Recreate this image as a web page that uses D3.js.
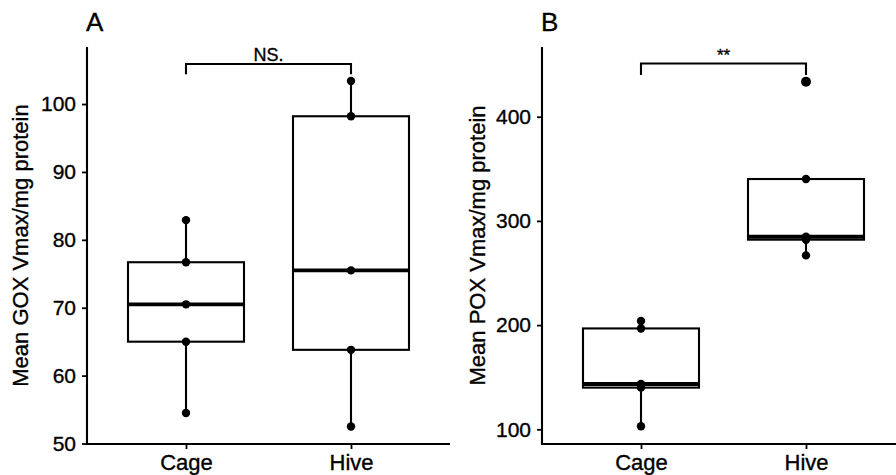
<!DOCTYPE html>
<html>
<head>
<meta charset="utf-8">
<script src="https://cdn.jsdelivr.net/npm/d3@7"></script>
<style>
	body { margin: 0; background: #fff; }
	svg { display: block; font-family: "Liberation Sans", Arial, sans-serif; }
	svg text { stroke: #000; stroke-width: 0.35px; }
</style>
</head>
<body>
<div id="content"></div>
<script>
// groups on the x axis
var groups = ["Cage", "Hive"];

// GOX values (panel A)
var goxCage = [54.5, 65.0, 70.5, 76.7, 82.9];
var goxHive = [52.5, 63.8, 75.5, 98.2, 103.4];

// POX values (panel B)
var poxCage = [103.0, 140.0, 143.5, 196.8, 204.0];
var poxHive = [266.9, 282.0, 284.8, 340.2, 433.6];

// y tick labels
var goxTicks = [50, 60, 70, 80, 90, 100];
var poxTicks = [100, 200, 300, 400];

// significance brackets: [bar value, leg tip value]
var goxBracket = [105.9, 104.4];
var poxBracket = [451.0, 440.0];
var goxSig = "NS.";
var poxSig = "**";

function main() {
	var width = 896, height = 475;
	var svg = d3.select("#content")
		.append("svg")
		.attr("width", width)
		.attr("height", height);

	drawPanel(svg, {
		letter: "A",
		axisX: 87,
		titleX: 28,
		title: "Mean GOX Vmax/mg protein",
		domain: [49.93, 108.4],
		ticks: goxTicks,
		values: [goxCage, goxHive],
		bracket: goxBracket,
		sig: goxSig
	});

	drawPanel(svg, {
		letter: "B",
		axisX: 542,
		titleX: 485,
		title: "Mean POX Vmax/mg protein",
		domain: [85.9, 466.9],
		ticks: poxTicks,
		values: [poxCage, poxHive],
		bracket: poxBracket,
		sig: poxSig
	});
}

function boxStats(v) {
	var s = v.slice().sort(d3.ascending);
	var q1 = d3.quantile(s, 0.25), med = d3.quantile(s, 0.5), q3 = d3.quantile(s, 0.75);
	var iqr = q3 - q1;
	var inside = s.filter(function (d) { return d >= q1 - 1.5 * iqr && d <= q3 + 1.5 * iqr; });
	return {
		q1: q1, med: med, q3: q3,
		lo: d3.min(inside), hi: d3.max(inside),
		out: s.filter(function (d) { return d < q1 - 1.5 * iqr || d > q3 + 1.5 * iqr; }),
		all: s
	};
}

function drawPanel(svg, p) {
	var top = 47, bottom = 444;
	var lw = 2.1;
	var x = d3.scalePoint()
		.domain(groups)
		.range([p.axisX, p.axisX + 363])
		.padding(0.6);
	var y = d3.scaleLinear()
		.domain(p.domain)
		.range([bottom, top]);
	var boxW = x.step() * 0.703;

	var g = svg.append("g");

	// axes
	var yAxis = g.append("g")
		.attr("transform", "translate(" + p.axisX + ",0)")
		.call(d3.axisLeft(y).tickValues(p.ticks).tickSize(5).tickPadding(6).tickSizeOuter(0));
	yAxis.select(".domain").remove();
	g.append("line")
		.attr("x1", p.axisX).attr("x2", p.axisX)
		.attr("y1", top).attr("y2", bottom + 1)
		.attr("stroke", "#000").attr("stroke-width", lw);

	var xAxis = g.append("g")
		.attr("transform", "translate(0," + bottom + ")")
		.call(d3.axisBottom(x).tickSize(5).tickPadding(5).tickSizeOuter(0));
	xAxis.select(".domain").remove();
	g.append("line")
		.attr("x1", p.axisX - 1).attr("x2", p.axisX + 363)
		.attr("y1", bottom).attr("y2", bottom)
		.attr("stroke", "#000").attr("stroke-width", lw);

	g.selectAll(".tick line").attr("stroke", "#000").attr("stroke-width", 1.8);
	yAxis.selectAll("text").attr("font-size", 21).attr("fill", "#000").attr("font-family", "Liberation Sans, Arial, sans-serif");
	xAxis.selectAll("text").attr("font-size", 22).attr("fill", "#000").attr("font-family", "Liberation Sans, Arial, sans-serif");

	// y title
	g.append("text")
		.attr("transform", "translate(" + p.titleX + "," + ((top + bottom) / 2) + ") rotate(-90)")
		.attr("text-anchor", "middle")
		.attr("font-size", 22)
		.text(p.title);

	// panel letter
	g.append("text")
		.attr("x", p.axisX - 1)
		.attr("y", 31)
		.attr("font-size", 26)
		.text(p.letter);

	// boxes
	var stats = p.values.map(boxStats);
	var boxes = g.selectAll(".box")
		.data(stats)
		.enter()
		.append("g")
		.attr("class", "box");

	boxes.append("line")
		.attr("x1", function (d, i) { return x(groups[i]); })
		.attr("x2", function (d, i) { return x(groups[i]); })
		.attr("y1", function (d) { return y(d.q3); })
		.attr("y2", function (d) { return y(d.hi); })
		.attr("stroke", "#000").attr("stroke-width", lw);
	boxes.append("line")
		.attr("x1", function (d, i) { return x(groups[i]); })
		.attr("x2", function (d, i) { return x(groups[i]); })
		.attr("y1", function (d) { return y(d.q1); })
		.attr("y2", function (d) { return y(d.lo); })
		.attr("stroke", "#000").attr("stroke-width", lw);
	boxes.append("rect")
		.attr("x", function (d, i) { return x(groups[i]) - boxW / 2; })
		.attr("width", boxW)
		.attr("y", function (d) { return y(d.q3); })
		.attr("height", function (d) { return y(d.q1) - y(d.q3); })
		.attr("fill", "#fff")
		.attr("stroke", "#000").attr("stroke-width", lw);
	boxes.append("line")
		.attr("x1", function (d, i) { return x(groups[i]) - boxW / 2; })
		.attr("x2", function (d, i) { return x(groups[i]) + boxW / 2; })
		.attr("y1", function (d) { return y(d.med); })
		.attr("y2", function (d) { return y(d.med); })
		.attr("stroke", "#000").attr("stroke-width", 3.8);

	// outliers
	boxes.selectAll(".out")
		.data(function (d, i) { return d.out.map(function (v) { return { g: groups[i], v: v }; }); })
		.enter()
		.append("circle")
		.attr("cx", function (d) { return x(d.g); })
		.attr("cy", function (d) { return y(d.v); })
		.attr("r", 5)
		.attr("fill", "#000");

	// points
	boxes.selectAll(".pt")
		.data(function (d, i) { return d.all.map(function (v) { return { g: groups[i], v: v }; }); })
		.enter()
		.append("circle")
		.attr("cx", function (d) { return x(d.g); })
		.attr("cy", function (d) { return y(d.v); })
		.attr("r", 4.2)
		.attr("fill", "#000");

	// significance bracket
	var x1 = x(groups[0]), x2 = x(groups[1]);
	var yb = y(p.bracket[0]), yt = y(p.bracket[1]);
	g.append("path")
		.attr("d", "M" + x1 + "," + yt + "V" + yb + "H" + x2 + "V" + yt)
		.attr("fill", "none")
		.attr("stroke", "#000").attr("stroke-width", lw);
	g.append("text")
		.attr("x", (x1 + x2) / 2)
		.attr("y", 61)
		.attr("text-anchor", "middle")
		.attr("font-size", p.sig === "**" ? 17 : 18)
		.text(p.sig);
}

(() => {
	main();
})()
</script>
</body>
</html>
